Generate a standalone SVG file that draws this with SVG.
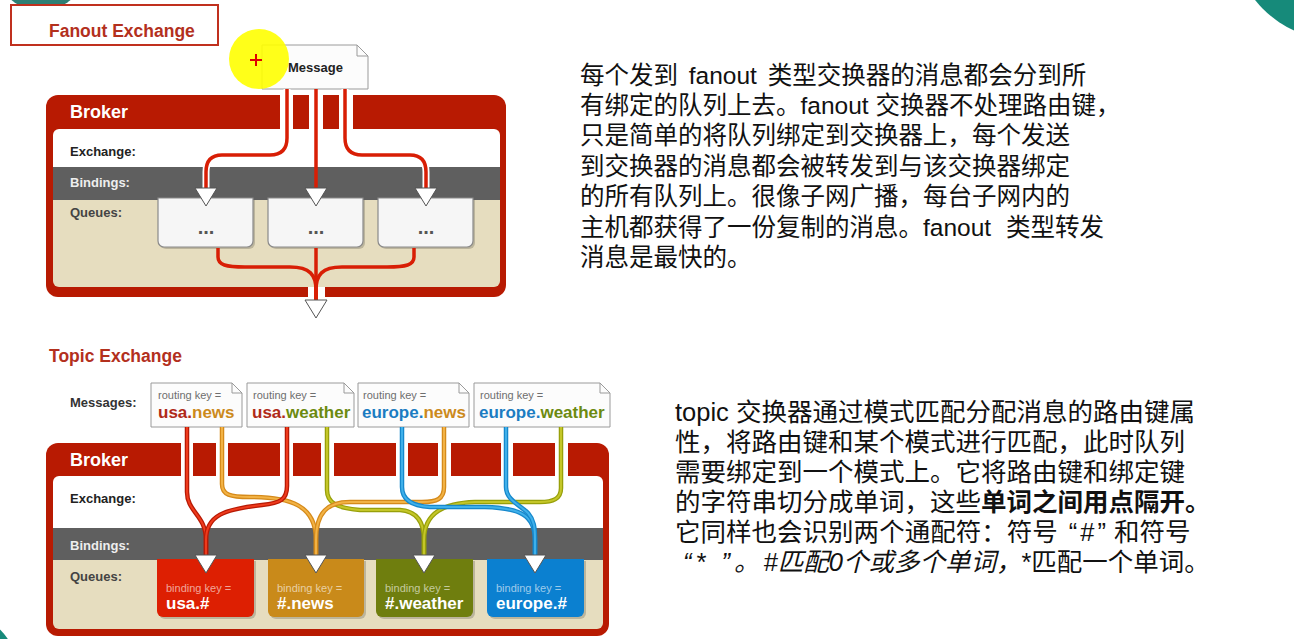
<svg xmlns="http://www.w3.org/2000/svg" width="1294" height="639" viewBox="0 0 1294 639">
<defs>
<style>
.lbl{font-family:"Liberation Sans",Arial,sans-serif;font-weight:bold;font-size:13px}
.brk{font-family:"Liberation Sans",Arial,sans-serif;font-weight:bold;font-size:18px;fill:#fff}
.title{font-family:"Liberation Sans",Arial,sans-serif;font-weight:bold;font-size:17.5px;fill:#b3301d}
.zh{font-family:"Liberation Sans","Noto Sans CJK SC",sans-serif;font-size:24.5px;fill:#111}
.zt{font-family:"Liberation Sans","Noto Sans CJK SC",sans-serif;font-size:25.5px;fill:#111}
.fl{fill:none;stroke:#d81e05;stroke-width:3.5}
.halo{fill:none;stroke:#fff;stroke-width:7}
.arrow{fill:#fff;stroke:#555;stroke-width:1}
.qbox{fill:#f6f6f6;stroke:#8a8a8a;stroke-width:1.2}
.shadow{fill:#000;fill-opacity:.18}
.doc{fill:#fcfcfc;stroke:#9a9a9a;stroke-width:1}
.fold{fill:none;stroke:#9a9a9a;stroke-width:1}
.rk{font-family:"Liberation Sans",Arial,sans-serif;font-size:11px;fill:#6e6e6e}
.key{font-family:"Liberation Sans",Arial,sans-serif;font-size:17px;font-weight:bold}
.bk{font-family:"Liberation Sans",Arial,sans-serif;font-size:11px;fill:#fff;fill-opacity:.6}
.bv{font-family:"Liberation Sans",Arial,sans-serif;font-size:17px;font-weight:bold;fill:#fff}
.dots{font-family:"Liberation Sans",Arial,sans-serif;font-size:20px;font-weight:bold;fill:#555}
.gap{fill:#fff}
.c-usa{fill:#b02a18}.c-news{fill:#cc8a1c}.c-wea{fill:#6c8a10}.c-eu{fill:#1b7cc2}
.tl{fill:none}
.ro{stroke:#b71a05;stroke-width:4.5}.ri{stroke:#ef3a1c;stroke-width:2}
.oo{stroke:#d58a1a;stroke-width:4.5}.oi{stroke:#f2b244;stroke-width:2}
.go{stroke:#98a00a;stroke-width:4.5}.gi{stroke:#c4c628;stroke-width:2}
.bo{stroke:#1688cc;stroke-width:4.5}.bi{stroke:#3fb0ea;stroke-width:2}
</style>
<path id="fq" d="M0,0 H95 V43 a6,6 0 0 1 -6,6 H6 a6,6 0 0 1 -6,-6 Z"/>
<path id="tr1" d="M187,427 V492 C187,512 206,515 206,540 V556"/>
<path id="tr2" d="M287,427 V486 C287,500 280,503 262,505 C225,509 206,515 206,540 V556"/>
<path id="to1" d="M222,427 V484 C222,495 230,497 250,497 C290,497 316,505 316,540 V556"/>
<path id="to2" d="M444,427 V487 C444,499 437,502 422,502 H350 C328,502 316,512 316,540 V556"/>
<path id="tg1" d="M327,427 V490 C327,503 337,508 360,510 H400 C415,511 424,520 424,540 V556"/>
<path id="tg2" d="M561,427 V488 C561,499 553,502 540,502 H475 C445,503 424,512 424,540 V556"/>
<path id="tb1" d="M402,427 V487 C402,500 412,506 430,507 H485 C520,508 535,515 535,540 V556"/>
<path id="tb2" d="M506,427 V487 C506,500 520,505 528,513 C534,520 535,527 535,540 V556"/>
</defs>

<rect width="1294" height="639" fill="#fff"/>

<g id="decor">
<ellipse cx="41" cy="-15" rx="37" ry="25" fill="#2e7f74"/>
<circle cx="1338" cy="-66" r="106" fill="#168a7a"/>
<circle cx="-40" cy="670" r="57" fill="#168a7a"/>
</g>

<g id="fanout-title">
<rect x="11" y="5" width="207" height="40" fill="#fff" stroke="#c0301e" stroke-width="2"/>
<text x="49" y="37" class="title">Fanout Exchange</text>
</g>

<g id="fanout-broker">
<rect x="46" y="95" width="460" height="202" rx="12" fill="#b81a02"/>
<path d="M53,135 a6,6 0 0 1 6,-6 H494 a6,6 0 0 1 6,6 V167 H53 Z" fill="#fff"/>
<rect x="53" y="167" width="447" height="33" fill="#5f5f5f"/>
<path d="M53,200 H500 V281 a6,6 0 0 1 -6,6 H59 a6,6 0 0 1 -6,-6 Z" fill="#e6ddbf"/>
<rect class="gap" x="280" y="95" width="13" height="34"/>
<rect class="gap" x="309" y="95" width="14" height="34"/>
<rect class="gap" x="339" y="95" width="14" height="34"/>
<rect class="gap" x="308" y="287" width="17" height="10"/>
<text x="70" y="118" class="brk">Broker</text>
<text x="70" y="156" class="lbl" fill="#222">Exchange:</text>
<text x="70" y="187" class="lbl" fill="#eee">Bindings:</text>
<text x="70" y="217" class="lbl" fill="#444">Queues:</text>
</g>

<g id="fanout-q1">
<use href="#fq" x="160" y="200" class="shadow"/>
<use href="#fq" x="158" y="198" class="qbox"/>
<text x="206" y="234" class="dots" text-anchor="middle">...</text>
</g>
<g id="fanout-q2">
<use href="#fq" x="270" y="200" class="shadow"/>
<use href="#fq" x="268" y="198" class="qbox"/>
<text x="316" y="234" class="dots" text-anchor="middle">...</text>
</g>
<g id="fanout-q3">
<use href="#fq" x="380" y="200" class="shadow"/>
<use href="#fq" x="378" y="198" class="qbox"/>
<text x="426" y="234" class="dots" text-anchor="middle">...</text>
</g>

<g id="fanout-message">
<path d="M262,45 H357 L368,56 V89 H262 Z" class="doc" stroke="#666"/>
<path d="M357,45 V56 H368" class="fold" stroke="#666"/>
<circle cx="259" cy="59" r="30" fill="#ffff00" fill-opacity="0.9"/>
<text x="288" y="72" class="lbl" font-size="12" fill="#222">Message</text>
<path d="M250,60 H262 M256,54 V66" stroke="#e00000" stroke-width="2"/>
</g>

<g id="fanout-connectors">
<path class="halo" d="M287,89 V138 Q287,155 270,155 H222 Q206,155 206,172 V190"/>
<path class="fl" d="M287,89 V138 Q287,155 270,155 H222 Q206,155 206,172 V190"/>
<path class="fl" d="M316,89 V190"/>
<path class="halo" d="M345,89 V138 Q345,155 362,155 H410 Q426,155 426,172 V190"/>
<path class="fl" d="M345,89 V138 Q345,155 362,155 H410 Q426,155 426,172 V190"/>
<path class="fl" d="M218,248 V257 C218,265 226,267 245,267 H290 C310,267 316,275 316,290 V302"/>
<path class="fl" d="M414,248 V257 C414,265 406,267 387,267 H342 C322,267 316,275 316,290 V302"/>
<path class="fl" d="M316,248 V302"/>
<polygon class="arrow" points="195,188 217,188 206,206"/>
<polygon class="arrow" points="305,188 327,188 316,206"/>
<polygon class="arrow" points="415,188 437,188 426,206"/>
<polygon class="arrow" points="305,300 327,300 316,318"/>
</g>

<g id="fanout-text">
<text class="zh" x="580" y="84" word-spacing="4">每个发到 fanout 类型交换器的消息都会分到所</text>
<text class="zh" x="580" y="114">有绑定的队列上去。fanout 交换器不处理路由键，</text>
<text class="zh" x="580" y="144">只是简单的将队列绑定到交换器上，每个发送</text>
<text class="zh" x="580" y="175">到交换器的消息都会被转发到与该交换器绑定</text>
<text class="zh" x="580" y="205">的所有队列上。很像子网广播，每台子网内的</text>
<text class="zh" x="580" y="236" word-spacing="8">主机都获得了一份复制的消息。fanout 类型转发</text>
<text class="zh" x="580" y="266">消息是最快的。</text>
</g>

<g id="topic-title">
<text x="49" y="362" class="title">Topic Exchange</text>
<text x="70" y="407" class="lbl" fill="#333">Messages:</text>
</g>

<g id="topic-broker">
<rect x="46" y="443" width="563" height="193" rx="12" fill="#b81a02"/>
<path d="M53,482 a6,6 0 0 1 6,-6 H597 a6,6 0 0 1 6,6 V528 H53 Z" fill="#fff"/>
<rect x="53" y="528" width="550" height="32" fill="#5f5f5f"/>
<path d="M53,560 H603 V623 a6,6 0 0 1 -6,6 H59 a6,6 0 0 1 -6,-6 Z" fill="#e6ddbf"/>
<rect class="gap" x="181" y="443" width="12" height="33"/>
<rect class="gap" x="216" y="443" width="12" height="33"/>
<rect class="gap" x="280" y="443" width="13" height="33"/>
<rect class="gap" x="321" y="443" width="13" height="33"/>
<rect class="gap" x="396" y="443" width="12" height="33"/>
<rect class="gap" x="438" y="443" width="13" height="33"/>
<rect class="gap" x="501" y="443" width="12" height="33"/>
<rect class="gap" x="555" y="443" width="13" height="33"/>
<text x="70" y="466" class="brk">Broker</text>
<text x="70" y="503" class="lbl" fill="#222">Exchange:</text>
<text x="70" y="550" class="lbl" fill="#eee">Bindings:</text>
<text x="70" y="581" class="lbl" fill="#444">Queues:</text>
</g>

<g id="msg-usa-news">
<path d="M151,383 H232 L242,393 V427 H151 Z" class="doc"/>
<path d="M232,383 V393 H242" class="fold"/>
<text x="158" y="399" class="rk">routing key =</text>
<text x="158" y="418" class="key"><tspan class="c-usa">usa.</tspan><tspan class="c-news">news</tspan></text>
</g>
<g id="msg-usa-weather">
<path d="M247,383 H344 L354,393 V427 H247 Z" class="doc"/>
<path d="M344,383 V393 H354" class="fold"/>
<text x="253" y="399" class="rk">routing key =</text>
<text x="252" y="418" class="key"><tspan class="c-usa">usa.</tspan><tspan class="c-wea">weather</tspan></text>
</g>
<g id="msg-europe-news">
<path d="M358,383 H459 L469,393 V427 H358 Z" class="doc"/>
<path d="M459,383 V393 H469" class="fold"/>
<text x="363" y="399" class="rk">routing key =</text>
<text x="362" y="418" class="key"><tspan class="c-eu">europe.</tspan><tspan class="c-news">news</tspan></text>
</g>
<g id="msg-europe-weather">
<path d="M474,383 H600 L610,393 V427 H474 Z" class="doc"/>
<path d="M600,383 V393 H610" class="fold"/>
<text x="480" y="399" class="rk">routing key =</text>
<text x="479" y="418" class="key"><tspan class="c-eu">europe.</tspan><tspan class="c-wea">weather</tspan></text>
</g>

<g id="q-usa">
<path d="M159,561 H256 V613 a6,6 0 0 1 -6,6 H165 a6,6 0 0 1 -6,-6 Z" class="shadow"/>
<path d="M157,559 H254 V611 a6,6 0 0 1 -6,6 H163 a6,6 0 0 1 -6,-6 Z" fill="#dd1f02"/>
<text x="166" y="592" class="bk">binding key =</text>
<text x="166" y="609" class="bv">usa.#</text>
</g>
<g id="q-news">
<path d="M270,561 H366 V613 a6,6 0 0 1 -6,6 H276 a6,6 0 0 1 -6,-6 Z" class="shadow"/>
<path d="M268,559 H364 V611 a6,6 0 0 1 -6,6 H274 a6,6 0 0 1 -6,-6 Z" fill="#c98a1a"/>
<text x="277" y="592" class="bk">binding key =</text>
<text x="277" y="609" class="bv">#.news</text>
</g>
<g id="q-weather">
<path d="M378,561 H475 V613 a6,6 0 0 1 -6,6 H384 a6,6 0 0 1 -6,-6 Z" class="shadow"/>
<path d="M376,559 H473 V611 a6,6 0 0 1 -6,6 H382 a6,6 0 0 1 -6,-6 Z" fill="#6f7e0e"/>
<text x="385" y="592" class="bk">binding key =</text>
<text x="385" y="609" class="bv">#.weather</text>
</g>
<g id="q-europe">
<path d="M489,561 H586 V613 a6,6 0 0 1 -6,6 H495 a6,6 0 0 1 -6,-6 Z" class="shadow"/>
<path d="M487,559 H584 V611 a6,6 0 0 1 -6,6 H493 a6,6 0 0 1 -6,-6 Z" fill="#0b80d0"/>
<text x="496" y="592" class="bk">binding key =</text>
<text x="496" y="609" class="bv">europe.#</text>
</g>

<g id="topic-connectors" class="tl">
<use href="#to1" class="tl oo"/><use href="#to1" class="tl oi"/>
<use href="#tr1" class="tl ro"/><use href="#tr1" class="tl ri"/>
<use href="#tr2" class="tl ro"/><use href="#tr2" class="tl ri"/>
<use href="#tg1" class="tl go"/><use href="#tg1" class="tl gi"/>
<use href="#to2" class="tl oo"/><use href="#to2" class="tl oi"/>
<use href="#tg2" class="tl go"/><use href="#tg2" class="tl gi"/>
<use href="#tb1" class="tl bo"/><use href="#tb1" class="tl bi"/>
<use href="#tb2" class="tl bo"/><use href="#tb2" class="tl bi"/>
<polygon class="arrow" points="195,555 217,555 206,573"/>
<polygon class="arrow" points="305,555 327,555 316,573"/>
<polygon class="arrow" points="413,555 435,555 424,573"/>
<polygon class="arrow" points="524,555 546,555 535,573"/>
</g>

<g id="topic-text">
<text class="zt" x="675" y="421">topic 交换器通过模式匹配分配消息的路由键属</text>
<text class="zt" x="675" y="451">性，将路由键和某个模式进行匹配，此时队列</text>
<text class="zt" x="675" y="481">需要绑定到一个模式上。它将路由键和绑定键</text>
<text class="zt" x="675" y="511">的字符串切分成单词，这些<tspan font-weight="bold">单词之间用点隔开。</tspan></text>
<text class="zt" x="675" y="541" dx="0 0 0 0 0 0 0 0 0 0 0 0 0 0 0 2 2 3 3 8">它同样也会识别两个通配符：符号 “#”和符号</text>
<text class="zt" x="683" y="571" font-style="italic" dx="0 4 3 6 4 4">“* ”。#匹配0个或多个单词，<tspan font-style="normal">*匹配一个单词。</tspan></text>
</g>
</svg>
